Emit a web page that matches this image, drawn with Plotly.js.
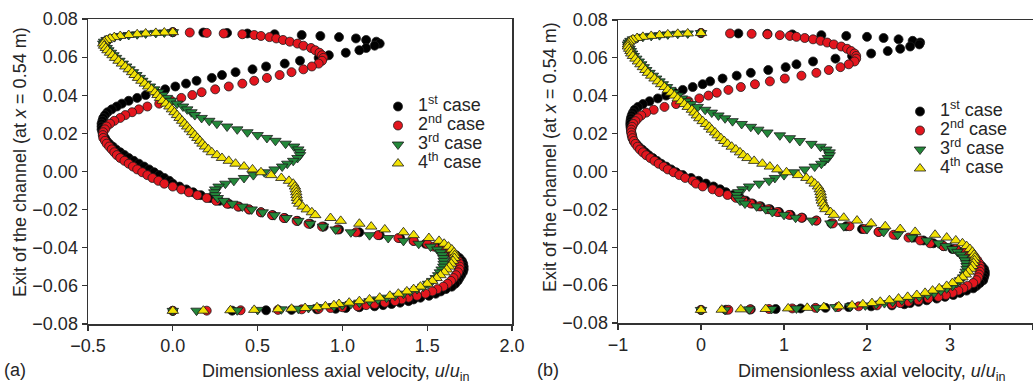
<!DOCTYPE html>
<html><head><meta charset="utf-8">
<script src="https://cdn.plot.ly/plotly-3.0.1.min.js"></script>
<style>html,body{margin:0;padding:0;background:#fff;}#chart{width:1033px;height:383px;}</style>
</head><body><div id="chart"></div>
<script>
// Transverse position across the channel exit (m)
const yGrid = [0.0731, 0.0729, 0.0727, 0.0724, 0.0720, 0.0716, 0.0711, 0.0705, 0.0698, 0.0690, 0.0681, 0.0671, 0.0660, 0.0648, 0.0636, 0.0623, 0.0610,
 0.0596, 0.0581, 0.0566, 0.0551, 0.0536, 0.0521, 0.0506, 0.0491, 0.0476, 0.0461, 0.0446, 0.0431, 0.0416, 0.0401, 0.0386, 0.0371, 0.0356, 0.0341, 0.0326, 0.0311,
 0.0296, 0.0281, 0.0266, 0.0251, 0.0236, 0.0221, 0.0206, 0.0191, 0.0176, 0.0161, 0.0146, 0.0131, 0.0116, 0.0101, 0.0086, 0.0071, 0.0056, 0.0041, 0.0026, 0.0011,
 -0.0004, -0.0019, -0.0034, -0.0049, -0.0064, -0.0079, -0.0094, -0.0109, -0.0124, -0.0139, -0.0154, -0.0169, -0.0184, -0.0199, -0.0214, -0.0229, -0.0244, -0.0259, -0.0274, -0.0289,
 -0.0304, -0.0319, -0.0334, -0.0349, -0.0364, -0.0379, -0.0394, -0.0409, -0.0424, -0.0439, -0.0454, -0.0469, -0.0484, -0.0499, -0.0514, -0.0529, -0.0544, -0.0559, -0.0574, -0.0589, -0.0604,
 -0.0617, -0.0629, -0.0641, -0.0652, -0.0662, -0.0671, -0.0680, -0.0688, -0.0695, -0.0701, -0.0707, -0.0712, -0.0716, -0.0720, -0.0723, -0.0726, -0.0728, -0.0730, -0.0731];

const caseNames = ['1<sup>st</sup> case', '2<sup>nd</sup> case', '3<sup>rd</sup> case', '4<sup>th</sup> case'];

// Panel (a): dimensionless axial velocity u/u_in
const leftCase1 = [0, 0.18, 0.32, 0.44, 0.60, 0.76, 0.87, 0.98, 1.08, 1.14, 1.20, 1.22, 1.19, 1.14, 1.10, 1.02, 0.92,
 0.86, 0.75, 0.66, 0.55, 0.47, 0.37, 0.29, 0.23, 0.14, 0.078, 0.015, -0.045, -0.10, -0.16, -0.21, -0.26, -0.30, -0.33, -0.36, -0.385,
 -0.40, -0.41, -0.415, -0.42, -0.42, -0.42, -0.415, -0.41, -0.40, -0.39, -0.375, -0.355, -0.335, -0.31, -0.285, -0.26, -0.23, -0.20, -0.17, -0.14,
 -0.11, -0.08, -0.05, -0.02, 0.0, 0.04, 0.08, 0.12, 0.165, 0.22, 0.275, 0.33, 0.39, 0.45, 0.52, 0.59, 0.66, 0.735, 0.81, 0.89,
 0.98, 1.10, 1.22, 1.34, 1.42, 1.49, 1.55, 1.60, 1.64, 1.67, 1.69, 1.705, 1.712, 1.715, 1.715, 1.71, 1.70, 1.69, 1.68, 1.665, 1.645,
 1.61, 1.58, 1.55, 1.51, 1.46, 1.42, 1.39, 1.34, 1.29, 1.24, 1.19, 1.10, 1.02, 0.96, 0.85, 0.70, 0.55, 0.35, 0];
const leftCase2 = [0, 0.10, 0.20, 0.30, 0.41, 0.48, 0.52, 0.57, 0.61, 0.65, 0.69, 0.735, 0.77, 0.815, 0.84, 0.865, 0.88,
 0.888, 0.88, 0.86, 0.82, 0.77, 0.70, 0.63, 0.555, 0.48, 0.41, 0.33, 0.25, 0.17, 0.115, 0.05, -0.01, -0.08, -0.15, -0.20, -0.24,
 -0.28, -0.31, -0.345, -0.37, -0.39, -0.40, -0.41, -0.413, -0.41, -0.40, -0.39, -0.375, -0.36, -0.345, -0.33, -0.31, -0.285, -0.26, -0.235, -0.21,
 -0.18, -0.15, -0.12, -0.085, -0.05, 0.0, 0.05, 0.095, 0.145, 0.20, 0.255, 0.32, 0.385, 0.45, 0.52, 0.585, 0.655, 0.73, 0.80, 0.88,
 0.97, 1.08, 1.21, 1.33, 1.42, 1.50, 1.54, 1.59, 1.625, 1.65, 1.67, 1.683, 1.69, 1.692, 1.69, 1.682, 1.67, 1.655, 1.64, 1.62, 1.595,
 1.56, 1.53, 1.49, 1.44, 1.39, 1.35, 1.31, 1.25, 1.19, 1.14, 1.09, 1.00, 0.93, 0.86, 0.76, 0.62, 0.40, 0.20, 0];
const leftCase3 = [0, -0.05, -0.10, -0.16, -0.21, -0.26, -0.31, -0.345, -0.37, -0.39, -0.405, -0.41, -0.40, -0.39, -0.38, -0.365, -0.35,
 -0.335, -0.315, -0.295, -0.275, -0.255, -0.235, -0.215, -0.195, -0.18, -0.16, -0.135, -0.11, -0.085, -0.06, -0.035, -0.01, 0.025, 0.06, 0.085, 0.11,
 0.13, 0.17, 0.215, 0.26, 0.32, 0.38, 0.44, 0.50, 0.555, 0.605, 0.665, 0.715, 0.74, 0.75, 0.75, 0.735, 0.71, 0.675, 0.645, 0.60,
 0.54, 0.475, 0.42, 0.36, 0.31, 0.27, 0.25, 0.245, 0.25, 0.265, 0.30, 0.35, 0.41, 0.465, 0.53, 0.60, 0.67, 0.74, 0.81, 0.885,
 0.96, 1.05, 1.16, 1.27, 1.36, 1.45, 1.52, 1.56, 1.58, 1.59, 1.595, 1.597, 1.597, 1.595, 1.585, 1.575, 1.565, 1.55, 1.53, 1.505, 1.477,
 1.44, 1.40, 1.36, 1.31, 1.26, 1.21, 1.16, 1.10, 1.05, 1.00, 0.95, 0.86, 0.80, 0.74, 0.64, 0.50, 0.38, 0.14, 0];
const leftCase4 = [0, -0.05, -0.10, -0.16, -0.21, -0.26, -0.31, -0.345, -0.37, -0.39, -0.405, -0.41, -0.405, -0.395, -0.385, -0.37, -0.355,
 -0.34, -0.32, -0.30, -0.28, -0.26, -0.24, -0.225, -0.205, -0.185, -0.165, -0.145, -0.125, -0.105, -0.09, -0.075, -0.06, -0.04, -0.02, -0.005, 0.01,
 0.025, 0.04, 0.055, 0.07, 0.085, 0.10, 0.115, 0.13, 0.145, 0.16, 0.175, 0.19, 0.21, 0.23, 0.26, 0.29, 0.33, 0.37, 0.42, 0.47,
 0.52, 0.58, 0.64, 0.685, 0.71, 0.72, 0.725, 0.728, 0.73, 0.732, 0.735, 0.745, 0.765, 0.79, 0.82, 0.84, 0.93, 0.99, 1.10, 1.17,
 1.25, 1.36, 1.42, 1.51, 1.57, 1.60, 1.625, 1.645, 1.658, 1.662, 1.66, 1.652, 1.642, 1.63, 1.615, 1.60, 1.578, 1.555, 1.53, 1.50, 1.46,
 1.42, 1.38, 1.33, 1.28, 1.22, 1.16, 1.10, 1.04, 0.98, 0.95, 0.90, 0.85, 0.78, 0.70, 0.62, 0.48, 0.34, 0.18, 0];

// Panel (b)
const rightCase1 = [0, 0.45, 0.80, 1.10, 1.45, 1.75, 2.00, 2.20, 2.38, 2.55, 2.64, 2.63, 2.52, 2.40, 2.25, 2.05, 1.82,
 1.62, 1.35, 1.15, 1.02, 0.81, 0.60, 0.43, 0.26, 0.11, 0.02, -0.10, -0.22, -0.32, -0.42, -0.52, -0.62, -0.70, -0.76, -0.80, -0.82,
 -0.835, -0.845, -0.85, -0.852, -0.85, -0.845, -0.84, -0.83, -0.825, -0.81, -0.78, -0.75, -0.71, -0.67, -0.63, -0.58, -0.53, -0.48, -0.42, -0.36,
 -0.30, -0.22, -0.12, -0.03, 0.06, 0.15, 0.23, 0.30, 0.39, 0.47, 0.54, 0.62, 0.72, 0.83, 0.94, 1.08, 1.22, 1.39, 1.57, 1.75,
 1.94, 2.14, 2.35, 2.56, 2.68, 2.80, 2.92, 3.03, 3.12, 3.19, 3.25, 3.30, 3.34, 3.38, 3.41, 3.42, 3.42, 3.41, 3.40, 3.36, 3.32,
 3.28, 3.20, 3.12, 3.04, 2.94, 2.84, 2.72, 2.62, 2.52, 2.45, 2.30, 2.05, 1.78, 1.50, 1.20, 0.90, 0.60, 0.30, 0];
const rightCase2 = [0, 0.35, 0.61, 0.80, 0.95, 1.07, 1.15, 1.25, 1.35, 1.44, 1.52, 1.60, 1.69, 1.76, 1.81, 1.85, 1.87,
 1.87, 1.85, 1.78, 1.68, 1.54, 1.39, 1.21, 1.01, 0.83, 0.65, 0.48, 0.33, 0.19, 0.09, -0.02, -0.15, -0.30, -0.44, -0.57, -0.66,
 -0.72, -0.76, -0.79, -0.815, -0.83, -0.84, -0.84, -0.835, -0.825, -0.81, -0.79, -0.765, -0.735, -0.70, -0.66, -0.61, -0.56, -0.51, -0.45, -0.40,
 -0.33, -0.26, -0.19, -0.10, -0.06, 0.02, 0.14, 0.22, 0.32, 0.42, 0.51, 0.60, 0.70, 0.81, 0.92, 1.06, 1.21, 1.39, 1.59, 1.79,
 1.97, 2.14, 2.32, 2.50, 2.64, 2.76, 2.92, 3.07, 3.19, 3.26, 3.30, 3.33, 3.35, 3.36, 3.365, 3.36, 3.35, 3.34, 3.32, 3.28, 3.21,
 3.16, 3.10, 3.03, 2.95, 2.86, 2.74, 2.62, 2.50, 2.40, 2.30, 2.12, 1.90, 1.65, 1.38, 1.10, 0.82, 0.59, 0.33, 0];
const rightCase3 = [0, -0.16, -0.28, -0.40, -0.50, -0.60, -0.70, -0.77, -0.82, -0.85, -0.87, -0.88, -0.875, -0.86, -0.845, -0.83, -0.81,
 -0.78, -0.75, -0.72, -0.69, -0.66, -0.62, -0.58, -0.54, -0.50, -0.46, -0.41, -0.37, -0.33, -0.28, -0.23, -0.18, -0.12, -0.04, 0.05, 0.13,
 0.21, 0.29, 0.38, 0.49, 0.60, 0.69, 0.80, 0.95, 1.07, 1.19, 1.33, 1.44, 1.51, 1.55, 1.55, 1.53, 1.49, 1.45, 1.37, 1.25,
 1.12, 1.00, 0.89, 0.82, 0.70, 0.58, 0.50, 0.45, 0.43, 0.44, 0.47, 0.53, 0.67, 0.78, 0.86, 1.00, 1.14, 1.34, 1.56, 1.72,
 2.00, 2.20, 2.37, 2.54, 2.72, 2.86, 2.95, 3.03, 3.09, 3.13, 3.16, 3.18, 3.195, 3.20, 3.20, 3.19, 3.18, 3.16, 3.12, 3.08, 3.03,
 2.96, 2.89, 2.81, 2.73, 2.63, 2.53, 2.42, 2.31, 2.21, 2.11, 1.98, 1.80, 1.62, 1.40, 1.15, 0.85, 0.58, 0.29, 0];
const rightCase4 = [0, -0.16, -0.28, -0.40, -0.50, -0.60, -0.70, -0.77, -0.82, -0.85, -0.87, -0.88, -0.88, -0.865, -0.85, -0.84, -0.82,
 -0.79, -0.76, -0.73, -0.70, -0.67, -0.64, -0.60, -0.56, -0.52, -0.48, -0.44, -0.40, -0.36, -0.32, -0.28, -0.24, -0.20, -0.16, -0.11, -0.08,
 -0.05, -0.02, 0.02, 0.06, 0.10, 0.13, 0.17, 0.20, 0.24, 0.28, 0.32, 0.37, 0.42, 0.47, 0.51, 0.56, 0.64, 0.74, 0.83, 0.92,
 1.03, 1.17, 1.27, 1.33, 1.37, 1.41, 1.43, 1.44, 1.445, 1.45, 1.455, 1.47, 1.49, 1.50, 1.56, 1.60, 1.72, 1.88, 2.05, 2.22,
 2.40, 2.58, 2.82, 2.96, 3.07, 3.15, 3.20, 3.24, 3.27, 3.29, 3.30, 3.295, 3.285, 3.27, 3.25, 3.22, 3.19, 3.15, 3.10, 3.03, 2.96,
 2.87, 2.79, 2.70, 2.60, 2.49, 2.38, 2.27, 2.16, 2.06, 1.95, 1.82, 1.66, 1.48, 1.28, 1.05, 0.78, 0.48, 0.25, 0];

// Tick labels
const xTickValsLeft = [-0.5, 0, 0.5, 1, 1.5, 2];
const xTickTextLeft = ['\u22120.5', '0.0', '0.5', '1.0', '1.5', '2.0'];
const xTickValsRight = [-1, 0, 1, 2, 3, 4];
const xTickTextRight = ['\u22121', '0', '1', '2', '3', '4'];
const yTickVals = [0.08, 0.06, 0.04, 0.02, 0, -0.02, -0.04, -0.06, -0.08];
const yTickText = ['0.08', '0.06', '0.04', '0.02', '0.00', '\u22120.02', '\u22120.04', '\u22120.06', '\u22120.08'];

const leftData = [leftCase1, leftCase2, leftCase3, leftCase4];
const rightData = [rightCase1, rightCase2, rightCase3, rightCase4];
[...leftData, ...rightData].forEach((a, i) => {
  if (a.length !== yGrid.length) throw new Error('series ' + i + ' length ' + a.length + ' vs ' + yGrid.length);
});

const colors = ['#000000', '#e3161e', '#23883a', '#f2e205'];
const symbols = ['circle', 'circle', 'triangle-down', 'triangle-up'];
const sizes = [9, 9, 10, 10];

const traces = [];
leftData.forEach((xs, i) => traces.push({
  x: xs, y: yGrid, xaxis: 'x', yaxis: 'y', type: 'scatter', mode: 'markers', legend: 'legend',
  name: '<span style="font-size:18px">' + caseNames[i] + '</span>',
  marker: {symbol: symbols[i], size: sizes[i], color: colors[i], line: {color: '#1a1a1a', width: 0.8}},
  hoverinfo: 'skip'
}));
rightData.forEach((xs, i) => traces.push({
  x: xs, y: yGrid, xaxis: 'x2', yaxis: 'y2', type: 'scatter', mode: 'markers', legend: 'legend2',
  name: '<span style="font-size:18px">' + caseNames[i] + '</span>',
  marker: {symbol: symbols[i], size: sizes[i], color: colors[i], line: {color: '#1a1a1a', width: 0.8}},
  hoverinfo: 'skip'
}));

const W = 1033, H = 383;
const txtColor = '#262626';
const axisCommon = {
  ticks: 'outside', ticklen: 5, tickwidth: 1.2, tickcolor: '#333',
  showline: true, linecolor: '#333', linewidth: 1.5,
  showgrid: false, zeroline: false, fixedrange: true,
  tickfont: {size: 18, color: txtColor}
};
const titleFont = {size: 18, color: txtColor};
const xTitle = 'Dimensionless axial velocity, <i>u</i>/<i>u</i><sub>in</sub>';
const yTitle = 'Exit of the channel (at <i>x</i> = 0.54 m)';

const layout = {
  width: W, height: H,
  margin: {l: 0, r: 0, t: 0, b: 0},
  paper_bgcolor: '#ffffff', plot_bgcolor: '#ffffff',
  font: {family: '"Liberation Sans", Arial, Helvetica, sans-serif', size: 18, color: txtColor},
  showlegend: true,
  xaxis: Object.assign({}, axisCommon, {domain: [88 / W, 512 / W], range: [-0.5, 2.0], tickvals: xTickValsLeft, ticktext: xTickTextLeft, mirror: true, anchor: 'y'}),
  yaxis: Object.assign({}, axisCommon, {domain: [59 / H, 364 / H], range: [-0.08, 0.08], tickvals: yTickVals, ticktext: yTickText, mirror: true, anchor: 'x'}),
  xaxis2: Object.assign({}, axisCommon, {domain: [618 / W, 1], range: [-1, 4], tickvals: xTickValsRight, ticktext: xTickTextRight, mirror: true, anchor: 'y2'}),
  yaxis2: Object.assign({}, axisCommon, {domain: [60 / H, 363 / H], range: [-0.08, 0.08], tickvals: yTickVals, ticktext: yTickText, mirror: false, anchor: 'x2'}),
  legend: {x: 378 / W, y: (H - 92) / H, xanchor: 'left', yanchor: 'top', bgcolor: 'rgba(0,0,0,0)', borderwidth: 0, font: {size: 12, color: txtColor}, itemwidth: 30},
  legend2: {x: 900 / W, y: (H - 97) / H, xanchor: 'left', yanchor: 'top', bgcolor: 'rgba(0,0,0,0)', borderwidth: 0, font: {size: 12, color: txtColor}, itemwidth: 30},
  annotations: [
    {xref: 'paper', yref: 'paper', x: 20 / W, y: (H - 162) / H, text: yTitle, textangle: -90, showarrow: false, xanchor: 'center', yanchor: 'middle', font: titleFont},
    {xref: 'paper', yref: 'paper', x: 550 / W, y: (H - 157) / H, text: yTitle, textangle: -90, showarrow: false, xanchor: 'center', yanchor: 'middle', font: titleFont},
    {xref: 'paper', yref: 'paper', x: 336 / W, y: (H - 372) / H, text: xTitle, showarrow: false, xanchor: 'center', yanchor: 'middle', font: titleFont},
    {xref: 'paper', yref: 'paper', x: 872 / W, y: (H - 372) / H, text: xTitle, showarrow: false, xanchor: 'center', yanchor: 'middle', font: titleFont},
    {xref: 'paper', yref: 'paper', x: 15 / W, y: (H - 370) / H, text: '(a)', showarrow: false, xanchor: 'center', yanchor: 'middle', font: titleFont},
    {xref: 'paper', yref: 'paper', x: 548 / W, y: (H - 370) / H, text: '(b)', showarrow: false, xanchor: 'center', yanchor: 'middle', font: titleFont}
  ]
};

Plotly.newPlot('chart', traces, layout, {displayModeBar: false, staticPlot: true});
</script>
</body></html>
